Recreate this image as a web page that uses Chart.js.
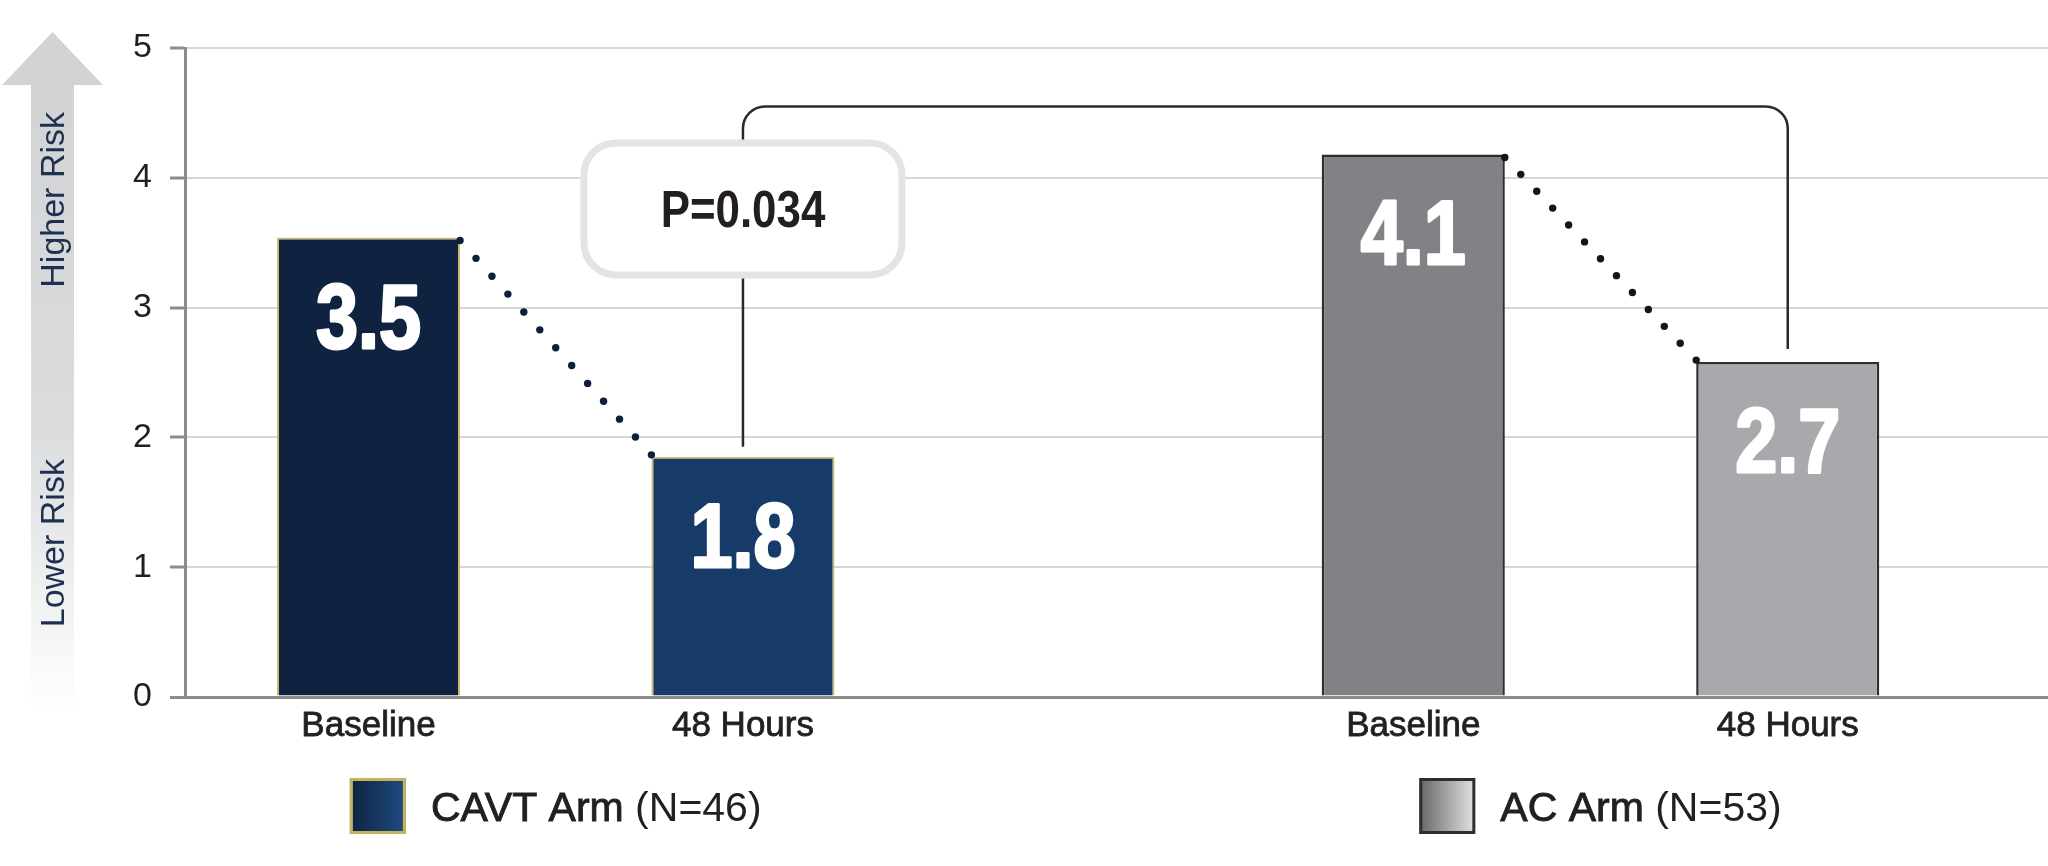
<!DOCTYPE html>
<html lang="en">
<head>
<meta charset="UTF-8">
<title>Risk score - CAVT vs AC</title>
<script src="https://cdn.jsdelivr.net/npm/chart.js@4.4.1/dist/chart.umd.min.js"></script>
<style>
    body { margin: 0; background: #ffffff; }
    #riskChart { display: block; }
</style>
</head>
<body>
<canvas id="riskChart" width="2048" height="866"></canvas>
<script>
/******************************** Data ********************************/

const timepoints = ['Baseline', '48 Hours'];
const arms = ['CAVT Arm', 'AC Arm'];
const armSizes = ['(N=46)', '(N=53)'];
const cavtRisk = [3.54, 1.85];
const acRisk = [4.18, 2.58];
const cavtShown = ['3.5', '1.8'];
const acShown = ['4.1', '2.7'];
const riskTicks = [0, 1, 2, 3, 4, 5];
const riskLabels = ['Higher Risk', 'Lower Risk'];
const pValueText = 'P=0.034';

/****************************** Layout ********************************/

const fontFamily = '"Liberation Sans", Arial, Helvetica, sans-serif';
const textColor = '#231f20';
const axisGrey = '#8c8c8c';

// each arm is a pair of bars, the second pair is pushed right
const groupStep = 2.79;
const slot = (arm, time) => arm * groupStep + time;
const slots = [];
arms.forEach((a, i) => timepoints.forEach((t, j) => slots.push(slot(i, j))));

const toPoints = (values, arm) => values.map((v, j) => ({ x: slot(arm, j), y: v }));

/****************************** Plugins *******************************/

// Grey "risk" arrow on the left side
const riskArrow = {
    id: 'riskArrow',
    beforeDatasetsDraw(chart) {
        const { ctx, chartArea } = chart;
        const cx = 52.5;
        const tipY = chartArea.top - 16;
        const headY = tipY + 53;
        const endY = chartArea.bottom + 16;

        ctx.save();
        ctx.fillStyle = '#d1d3d4';
        ctx.beginPath();
        ctx.moveTo(cx, tipY);
        ctx.lineTo(cx + 50.5, headY);
        ctx.lineTo(cx - 50.5, headY);
        ctx.closePath();
        ctx.fill();

        let grad = ctx.createLinearGradient(0, headY, 0, endY);
        grad.addColorStop(0, '#d1d3d4');
        grad.addColorStop(0.55, '#dadcdd');
        grad.addColorStop(1, '#ffffff');
        ctx.fillStyle = grad;
        ctx.fillRect(cx - 21.5, headY - 1, 43, endY - headY + 1);

        ctx.fillStyle = '#1d3050';
        ctx.font = '34px ' + fontFamily;
        ctx.textAlign = 'center';
        ctx.textBaseline = 'alphabetic';
        [[riskLabels[0], 0.234], [riskLabels[1], 0.763]].forEach(([txt, f]) => {
            ctx.save();
            ctx.translate(cx + 11, chartArea.top + f * chartArea.height);
            ctx.rotate(-Math.PI / 2);
            ctx.fillText(txt, 0, 0);
            ctx.restore();
        });
        ctx.restore();
    }
};

// Dotted connectors, p-value bracket, value labels
const annotations = {
    id: 'annotations',
    afterDatasetsDraw(chart) {
        const { ctx } = chart;
        const yScale = chart.scales.y;
        const metas = [chart.getDatasetMeta(0), chart.getDatasetMeta(1)];
        const dotColors = ['#0d1f3c', '#151515'];

        ctx.save();

        // dotted lines between top corners
        metas.forEach((meta, i) => {
            const a = meta.data[0], b = meta.data[1];
            const x0 = a.x + a.width / 2, y0 = a.y + 3;
            const x1 = b.x - b.width / 2, y1 = b.y - 2;
            const steps = Math.round(Math.hypot(x1 - x0, y1 - y0) / 23.6);
            ctx.fillStyle = dotColors[i];
            for (let k = 0; k <= steps; k++) {
                ctx.beginPath();
                ctx.arc(x0 + (x1 - x0) * k / steps, y0 + (y1 - y0) * k / steps, 3.7, 0, Math.PI * 2);
                ctx.fill();
            }
        });

        // bracket between the two 48 hours bars
        const left = metas[0].data[1], right = metas[1].data[1];
        const topY = yScale.getPixelForValue(4.55);
        const r = 22;
        ctx.strokeStyle = '#2a2a2a';
        ctx.lineWidth = 2.5;
        ctx.beginPath();
        ctx.moveTo(left.x, left.y - 10);
        ctx.lineTo(left.x, topY + r);
        ctx.arcTo(left.x, topY, left.x + r, topY, r);
        ctx.lineTo(right.x - r, topY);
        ctx.arcTo(right.x, topY, right.x, topY + r, r);
        ctx.lineTo(right.x, right.y - 13);
        ctx.stroke();

        // p-value box
        const boxY = yScale.getPixelForValue(3.76);
        const bw = 318, bh = 132;
        ctx.beginPath();
        ctx.roundRect(left.x - bw / 2, boxY - bh / 2, bw, bh, 32);
        ctx.fillStyle = '#ffffff';
        ctx.fill();
        ctx.lineWidth = 7;
        ctx.strokeStyle = '#e4e4e4';
        ctx.stroke();

        ctx.fillStyle = textColor;
        ctx.font = 'bold 51px ' + fontFamily;
        ctx.textAlign = 'center';
        ctx.textBaseline = 'alphabetic';
        ctx.save();
        ctx.translate(left.x, boxY + 18.5);
        ctx.scale(0.86, 1);
        ctx.fillText(pValueText, 0, 0);
        ctx.restore();

        // big white values inside the bars
        ctx.font = 'bold 90px ' + fontFamily;
        ctx.fillStyle = '#ffffff';
        ctx.strokeStyle = '#ffffff';
        ctx.lineWidth = 3;
        ctx.lineJoin = 'round';
        metas.forEach((meta, i) => {
            const shown = chart.data.datasets[i].shown;
            meta.data.forEach((bar, j) => {
                ctx.save();
                ctx.translate(bar.x, bar.y + 110);
                ctx.scale(0.84, 1);
                ctx.fillText(shown[j], 0, 0);
                ctx.strokeText(shown[j], 0, 0);
                ctx.restore();
            });
        });

        ctx.restore();
    }
};

// Legend: one swatch per arm, centred under its pair of bars
const armLegend = {
    id: 'armLegend',
    afterDraw(chart) {
        const { ctx, chartArea } = chart;
        const cy = chartArea.bottom + 109;
        const box = 56, gap = 25;
        const swatches = [
            { from: '#0e2240', to: '#1f4c82', border: '#c9b25a' },
            { from: '#666769', to: '#e2e3e4', border: '#2e2e2e' }
        ];

        ctx.save();
        ctx.textBaseline = 'alphabetic';
        ctx.textAlign = 'left';
        arms.forEach((arm, i) => {
            const meta = chart.getDatasetMeta(i);
            const center = (meta.data[0].x + meta.data[1].x) / 2;

            ctx.font = '41px ' + fontFamily;
            const nameW = ctx.measureText(arm + ' ').width;
            const sizeW = ctx.measureText(armSizes[i]).width;
            const total = box + gap + nameW + sizeW;
            const x0 = center - total / 2;

            let grad = ctx.createLinearGradient(x0, 0, x0 + box, 0);
            grad.addColorStop(0, swatches[i].from);
            grad.addColorStop(1, swatches[i].to);
            ctx.fillStyle = grad;
            ctx.fillRect(x0, cy - box / 2, box, box);
            ctx.lineWidth = 3;
            ctx.strokeStyle = swatches[i].border;
            ctx.strokeRect(x0 + 1.5, cy - box / 2 + 1.5, box - 3, box - 3);

            const tx = x0 + box + gap;
            const base = cy + 15;
            ctx.fillStyle = textColor;
            ctx.strokeStyle = textColor;
            ctx.lineWidth = 0.9;
            ctx.fillText(arm, tx, base);
            ctx.strokeText(arm, tx, base);
            ctx.fillText(armSizes[i], tx + nameW, base);
        });
        ctx.restore();
    }
};

/******************************* Chart ********************************/

let canvasRisk = document.getElementById('riskChart');
let riskCTX = canvasRisk.getContext('2d');

let riskChart = new Chart(riskCTX, {
    type: 'bar',
    data: {
        datasets: [{
            label: arms[0],
            data: toPoints(cavtRisk, 0),
            shown: cavtShown,
            backgroundColor: ['#0f2341', '#163b69'],
            borderColor: '#cdbb72',
            borderWidth: { left: 2, top: 2, right: 2, bottom: 0 },
            borderSkipped: false
        }, {
            label: arms[1],
            data: toPoints(acRisk, 1),
            shown: acShown,
            backgroundColor: ['#808285', '#a7a9ac'],
            borderColor: '#2e2e2e',
            borderWidth: { left: 2.5, top: 2.5, right: 2.5, bottom: 0 },
            borderSkipped: false
        }]
    },
    options: {
        responsive: false,
        devicePixelRatio: 1,
        animation: false,
        events: [],
        grouped: false,
        categoryPercentage: 1,
        barPercentage: 0.489,
        layout: { padding: { top: 48, right: 0, bottom: 0, left: 0 } },
        plugins: {
            legend: { display: false },
            tooltip: { enabled: false }
        },
        scales: {
            x: {
                type: 'linear',
                min: -0.49,
                max: 4.485,
                offset: false,
                grid: { display: false, drawTicks: false, offset: false },
                border: { display: true, color: axisGrey, width: 3 },
                afterBuildTicks: (scale) => {
                    scale.ticks = slots.map((v) => ({ value: v }));
                },
                afterFit: (scale) => {
                    scale.height = 169;
                },
                ticks: {
                    autoSkip: false,
                    maxRotation: 0,
                    padding: 8,
                    color: textColor,
                    textStrokeColor: textColor,
                    textStrokeWidth: 0.8,
                    font: { family: fontFamily, size: 35 },
                    callback: (value) => {
                        const i = slots.findIndex((s) => Math.abs(s - value) < 1e-6);
                        return i < 0 ? '' : timepoints[i % timepoints.length];
                    }
                }
            },
            y: {
                min: 0,
                max: 5,
                afterBuildTicks: (scale) => {
                    scale.ticks = riskTicks.map((v) => ({ value: v }));
                },
                afterFit: (scale) => {
                    scale.width = 185;
                },
                grid: {
                    color: (c) => (c.tick && c.tick.value === 0 ? axisGrey : '#d6d6d6'),
                    lineWidth: (c) => (c.tick && c.tick.value === 0 ? 3 : 2),
                    tickColor: axisGrey,
                    tickLength: 15,
                    tickWidth: 3
                },
                border: { display: true, color: axisGrey, width: 3 },
                ticks: {
                    padding: 18,
                    color: textColor,
                    font: { family: fontFamily, size: 34 }
                }
            }
        }
    },
    plugins: [riskArrow, annotations, armLegend]
});
</script>
</body>
</html>
